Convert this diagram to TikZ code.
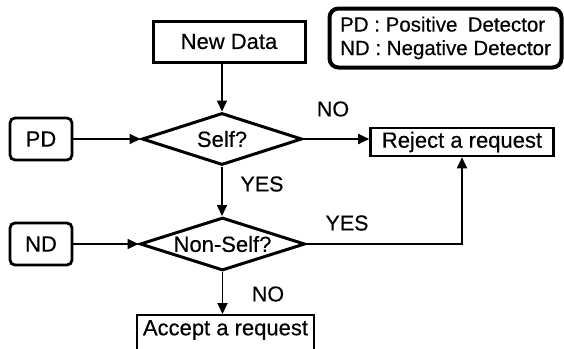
\documentclass[tikz,border=0pt]{standalone}
\usepackage{fontspec}
\setmainfont[FakeBold=0.4]{Liberation Sans}
\usetikzlibrary{shapes.geometric,arrows.meta}
\begin{document}
\begin{tikzpicture}[x=1pt,y=-1pt,
  font=\fontsize{22}{26}\selectfont,
  every node/.style={inner sep=0pt},
  box/.style={draw,line width=3pt,rectangle},
  detbox/.style={draw,line width=2.8pt,rectangle,rounded corners=5pt,
    minimum width=62pt,minimum height=42pt},
  decision/.style={draw,line width=3pt,diamond,aspect=3},
  flow/.style={line width=1.8pt,-{Triangle[length=11pt,width=10pt]}},
  lbl/.style={font=\fontsize{21.5}{24}\selectfont}]
\useasboundingbox (0,0) rectangle (564,348);
\clip (0,0) rectangle (564,348);

% legend
\node[draw,line width=4pt,rounded corners=9pt,minimum width=232pt,minimum height=59pt,
  align=left,font=\fontsize{20.5}{23.5}\selectfont] (legend) at (445.5,38)
  {PD : Positive\enspace Detector\\ND : Negative Detector};

% process boxes
\node[box,minimum width=152pt,minimum height=41pt] (newdata) at (229,41.5) {New Data};
\node[box,line width=2.6pt,minimum width=183pt,minimum height=28pt] (reject) at (462,142) {Reject a request};
\node[box,line width=2.4pt,minimum width=177pt,minimum height=44pt,anchor=north] (accept) at (225.5,314) {};
\node (accepttext) at (225.5,330) {Accept a request};

% detectors
\node[detbox] (pd) at (41,139) {PD};
\node[detbox] (nd) at (41,244) {ND};

% decisions
\node[decision,minimum width=160pt,minimum height=52pt] (self) at (222,139) {Self?};
\node[decision,minimum width=165pt,minimum height=53pt] (nonself) at (222.5,244) {Non-Self?};

% connectors
\draw[flow] (self.north |- newdata.south) -- (self.north);
\draw[flow] (pd.east) -- (self.west);
\draw[flow] (nd.east) -- (nonself.west);
\draw[flow] (self.east) -- (self.east -| reject.west);
\draw[flow] (self.south) -- (self.south |- nonself.north);
\draw[flow] (nonself.east) -| (reject.south);
\draw[flow] (nonself.south) -- (nonself.south |- accept.north);

% branch labels
\node[lbl] (no1) at (333,109) {NO};
\node[lbl] (yes1) at (262,184) {YES};
\node[lbl] (yes2) at (347,223) {YES};
\node[lbl] (no2) at (268,294) {NO};
\end{tikzpicture}
\end{document}
